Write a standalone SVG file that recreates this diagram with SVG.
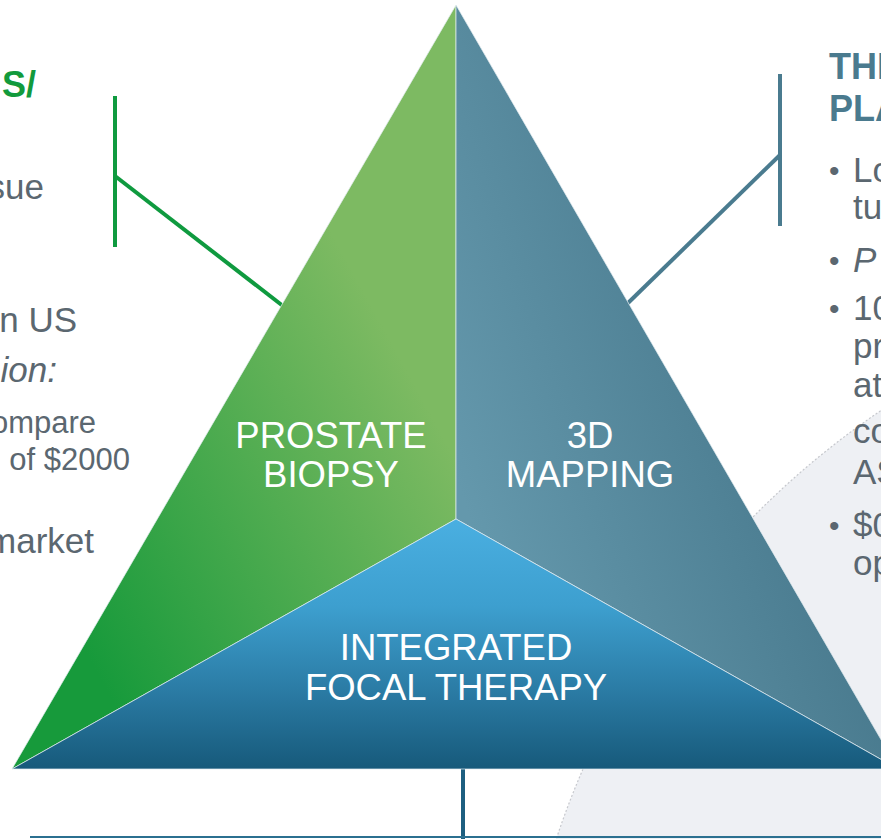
<svg xmlns="http://www.w3.org/2000/svg" width="881" height="839" viewBox="0 0 881 839">
<defs>
<style>
.body{font-family:"Liberation Sans",Arial,sans-serif;fill:#5b6770;font-size:35px}
.small{font-family:"Liberation Sans",Arial,sans-serif;fill:#5b6770;font-size:31px}
.bul{font-family:"Liberation Sans",Arial,sans-serif;fill:#5b6770;font-size:30px}
.lbl{font-family:"Liberation Sans",Arial,sans-serif;fill:#ffffff;font-size:36.5px;text-anchor:middle}
.hg{font-family:"Liberation Sans",Arial,sans-serif;font-weight:bold;font-size:36px;fill:#129a3c}
.hb{font-family:"Liberation Sans",Arial,sans-serif;font-weight:bold;font-size:36px;fill:#4a7a8e}
.panel{stroke:#e6eef2;stroke-width:1;stroke-opacity:0.7}
</style>
<linearGradient id="gGreen" gradientUnits="userSpaceOnUse" x1="90" y1="660" x2="456" y2="460">
<stop offset="0" stop-color="#179a3b"/>
<stop offset="1" stop-color="#7dba62"/>
</linearGradient>
<linearGradient id="gSlate" gradientUnits="userSpaceOnUse" x1="470" y1="520" x2="820" y2="400">
<stop offset="0" stop-color="#6498ac"/>
<stop offset="1" stop-color="#46778b"/>
</linearGradient>
<linearGradient id="gBlue" gradientUnits="userSpaceOnUse" x1="0" y1="519" x2="0" y2="768">
<stop offset="0" stop-color="#4aafe1"/>
<stop offset="0.35" stop-color="#3d9fcf"/>
<stop offset="0.7" stop-color="#2a7aa3"/>
<stop offset="1" stop-color="#175a7b"/>
</linearGradient>
</defs>
<rect width="881" height="839" fill="#ffffff"/>
<circle cx="1347" cy="1101" r="833" fill="#eef0f4" stroke="#c6c8cd" stroke-width="1.2" stroke-dasharray="2 2"/>

<g id="connectors">
<line x1="115" y1="96" x2="115" y2="247" stroke="#0f9a3f" stroke-width="4"/>
<line x1="115" y1="176" x2="283" y2="306" stroke="#0f9a3f" stroke-width="4"/>
<line x1="780" y1="74" x2="780" y2="226" stroke="#4a7b8f" stroke-width="4"/>
<line x1="780" y1="155" x2="628" y2="303" stroke="#4a7b8f" stroke-width="4"/>
<line x1="463" y1="768" x2="463" y2="839" stroke="#1d5f80" stroke-width="4"/>
<line x1="30" y1="837" x2="881" y2="837" stroke="#2b7090" stroke-width="2"/>
</g>

<g id="prostate-biopsy">
<polygon class="panel" points="456,5 456,519 12,769" fill="url(#gGreen)"/>
<text class="lbl" x="331" y="448">PROSTATE</text>
<text class="lbl" x="331" y="487">BIOPSY</text>
</g>
<g id="mapping-3d">
<polygon class="panel" points="456,5 898,769 456,519" fill="url(#gSlate)"/>
<text class="lbl" x="590" y="448">3D</text>
<text class="lbl" x="590" y="487">MAPPING</text>
</g>
<g id="focal-therapy">
<polygon class="panel" points="456,519 898,769 12,769" fill="url(#gBlue)"/>
<text class="lbl" x="456" y="660">INTEGRATED</text>
<text class="lbl" x="456" y="700">FOCAL THERAPY</text>
</g>

<g id="left-text">
<text class="hg" x="36" y="97" text-anchor="end">S/</text>
<text class="body" x="44" y="199" text-anchor="end">sue</text>
<text class="body" x="77" y="332" text-anchor="end">n US</text>
<text class="body" x="57" y="382" text-anchor="end" font-style="italic">ion:</text>
<text class="small" x="96" y="433" text-anchor="end">ompare</text>
<text class="small" x="130" y="470" text-anchor="end">of $2000</text>
<text class="body" x="94" y="553" text-anchor="end">market</text>
</g>

<g id="right-text">
<text class="hb" x="829" y="79">THE</text>
<text class="hb" x="829" y="121">PLA</text>
<text class="bul" x="829" y="181">•</text>
<text class="body" x="853" y="182">Lo</text>
<text class="body" x="853" y="219">tu</text>
<text class="bul" x="829" y="271">•</text>
<text class="body" x="853" y="272" font-style="italic">P</text>
<text class="bul" x="829" y="319">•</text>
<text class="body" x="853" y="320">10</text>
<text class="body" x="853" y="358">pr</text>
<text class="body" x="853" y="397">at</text>
<text class="body" x="853" y="443">co</text>
<text class="body" x="853" y="484">AS</text>
<text class="bul" x="829" y="536">•</text>
<text class="body" x="853" y="537">$0</text>
<text class="body" x="853" y="575">op</text>
</g>
</svg>
